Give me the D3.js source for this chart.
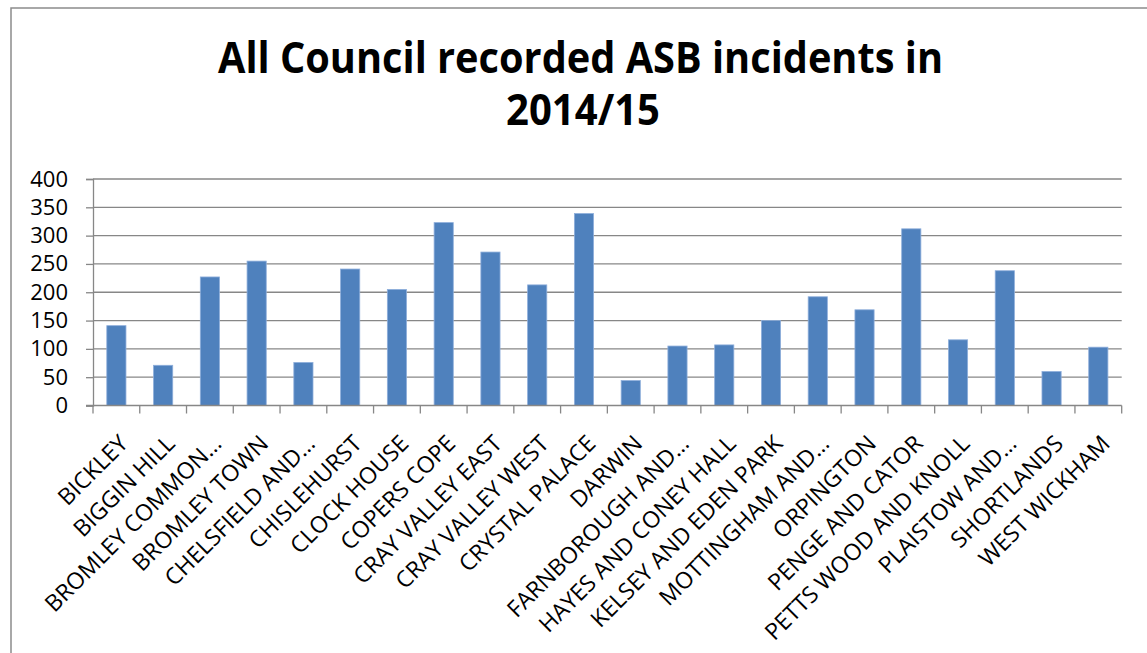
<!DOCTYPE html>
<html>
<head>
<meta charset="utf-8">
<script src="https://cdn.jsdelivr.net/npm/d3@7"></script>
<style>
  body { margin: 0; background: #fff; }
  svg { display: block; font-family: "Open Sans", sans-serif; }
</style>
</head>
<body>
<svg id="chart" width="1147" height="653"></svg>
<script>
var wards = ['BICKLEY', 'BIGGIN HILL', 'BROMLEY COMMON\u2026', 'BROMLEY TOWN', 'CHELSFIELD AND\u2026',
  'CHISLEHURST', 'CLOCK HOUSE', 'COPERS COPE', 'CRAY VALLEY EAST', 'CRAY VALLEY WEST',
  'CRYSTAL PALACE', 'DARWIN', 'FARNBOROUGH AND\u2026', 'HAYES AND CONEY HALL', 'KELSEY AND EDEN PARK',
  'MOTTINGHAM AND\u2026', 'ORPINGTON', 'PENGE AND CATOR', 'PETTS WOOD AND KNOLL', 'PLAISTOW AND\u2026',
  'SHORTLANDS', 'WEST WICKHAM'];
var incidents = [141, 71, 227, 255, 76, 241, 205, 323, 271, 213, 339, 44, 105, 107, 150,
  192, 169, 312, 116, 238, 60, 103];
var yTicks = [0, 50, 100, 150, 200, 250, 300, 350, 400];
var titleLines = ['All Council recorded ASB incidents in', '2014/15'];

var svg = d3.select('#chart');
var plotLeft = 93, plotRight = 1121.7, plotTop = 179, plotBottom = 405.5;
var gridColor = '#878787';
var barColor = '#4f81bd';

// outer chart frame (runs off the right and bottom edge)
svg.append('path')
  .attr('d', 'M11,660 V8 H1160')
  .attr('fill', 'none')
  .attr('stroke', '#8c8c8c')
  .attr('stroke-width', 1.5);

// title
svg.append('text')
  .attr('x', 580.5).attr('y', 73)
  .attr('text-anchor', 'middle')
  .attr('font-weight', 'bold')
  .attr('font-size', 43)
  .attr('textLength', 725)
  .attr('lengthAdjust', 'spacingAndGlyphs')
  .text(titleLines[0]);
svg.append('text')
  .attr('x', 583).attr('y', 125)
  .attr('text-anchor', 'middle')
  .attr('font-weight', 'bold')
  .attr('font-size', 43)
  .attr('textLength', 154)
  .attr('lengthAdjust', 'spacingAndGlyphs')
  .text(titleLines[1]);

var x = d3.scaleBand().domain(wards).range([plotLeft, plotRight]).paddingInner(0.59).paddingOuter(0.295);
var xEdges = d3.scaleLinear().domain([0, wards.length]).range([plotLeft, plotRight]);
var y = d3.scaleLinear().domain([0, 400]).range([plotBottom, plotTop]);

// gridlines
svg.append('g')
  .selectAll('line')
  .data(yTicks.slice(1))
  .join('line')
  .attr('x1', plotLeft).attr('x2', plotRight)
  .attr('y1', d => y(d)).attr('y2', d => y(d))
  .attr('stroke', gridColor)
  .attr('stroke-width', 1.3);

// y axis
var yAxis = svg.append('g')
  .attr('transform', 'translate(' + plotLeft + ',0)')
  .call(d3.axisLeft(y).tickValues(yTicks).tickSize(7).tickPadding(18));
yAxis.select('.domain').attr('stroke', gridColor).attr('stroke-width', 1.3);
yAxis.selectAll('.tick line').attr('stroke', gridColor).attr('stroke-width', 1.3);
yAxis.selectAll('.tick text')
  .attr('font-size', 22)
  .attr('font-family', '"Open Sans", sans-serif')
  .attr('fill', '#000');

// bars
svg.append('g')
  .selectAll('rect')
  .data(incidents)
  .join('rect')
  .attr('x', (d, i) => x(wards[i]))
  .attr('width', x.bandwidth())
  .attr('y', d => y(d))
  .attr('height', d => y(0) - y(d))
  .attr('fill', barColor)
  .attr('stroke', '#8eaedb')
  .attr('stroke-width', 0.8);

// x axis with ticks between categories
svg.append('line')
  .attr('x1', plotLeft - 7).attr('x2', plotRight)
  .attr('y1', plotBottom).attr('y2', plotBottom)
  .attr('stroke', gridColor).attr('stroke-width', 1.3);
svg.append('g')
  .selectAll('line')
  .data(d3.range(wards.length + 1))
  .join('line')
  .attr('x1', d => xEdges(d)).attr('x2', d => xEdges(d))
  .attr('y1', plotBottom).attr('y2', plotBottom + 8)
  .attr('stroke', gridColor).attr('stroke-width', 1.3);

// rotated category labels
svg.append('g')
  .selectAll('text')
  .data(wards)
  .join('text')
  .attr('transform', d => 'translate(' + (x(d) + x.bandwidth() / 2 + 13) + ',445) rotate(-45)')
  .attr('text-anchor', 'end')
  .attr('font-size', 23)
  .text(d => d);
</script>
</body>
</html>
